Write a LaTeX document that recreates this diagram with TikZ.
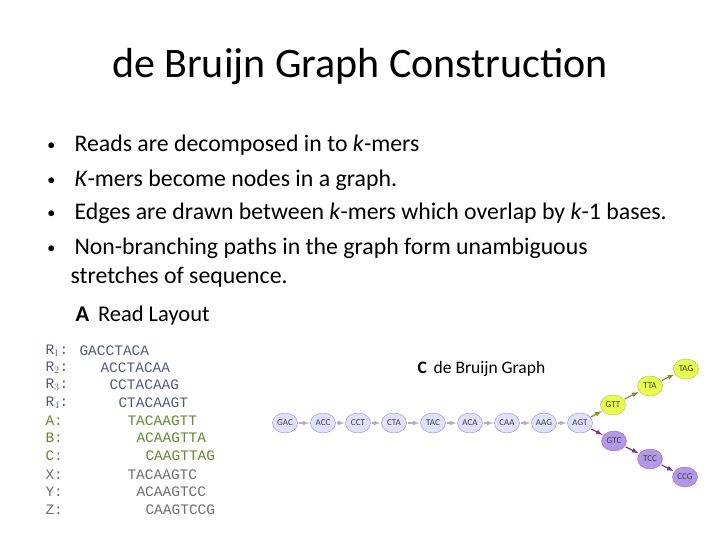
\documentclass[tikz,border=0pt]{standalone}
\usepackage{fontspec}
\setmainfont{Carlito}
\newfontfamily\monof{Liberation Mono}
\usetikzlibrary{shapes.geometric}
\begin{document}
\begin{tikzpicture}[x=1pt,y=1pt,
 kb/.style={ellipse,draw=blue!25!gray!70,fill=blue!12,inner sep=0pt,minimum width=25pt,minimum height=20pt,font=\fontsize{9}{9}\selectfont,text=black!75},
 kg/.style={kb,draw=olive!60,fill=lime!55!yellow!70!white},
 kp/.style={kb,draw=violet!60,fill=violet!45!blue!40!white},
 ar/.style={-latex,draw=gray!60,line width=1.2pt,shorten <=1pt,shorten >=1pt},
 arg/.style={ar,draw=olive!70!gray},
 arp/.style={ar,draw=violet!60!gray},
 bl/.style={anchor=west,font=\fontsize{23.8}{26}\selectfont},
 rd/.style={anchor=west,font=\monof\fontsize{14.5}{15}\selectfont}]
\useasboundingbox[fill=white] (0,0) rectangle (720,540);
\node[font=\fontsize{42}{46}\selectfont] (t) at (360,473) {de Bruijn Graph Construction};
\foreach \y/\tx [count=\i] in {395/{Reads are decomposed in to \textit{k}-mers},360/{\textit{K}-mers become nodes in a graph.},327/{Edges are drawn between \textit{k}-mers which overlap by \textit{k}-1 bases.},292/{Non-branching paths in the graph form unambiguous}}{
 \node[bl] (b\i) at (44,\y) {\makebox[27pt][l]{\raisebox{2pt}{\scalebox{0.6}{$\bullet$}}}\tx};}
\node[bl] (b5) at (67,263) {stretches of sequence.};
\node[anchor=west,font=\fontsize{22.5}{24}\selectfont] (ha) at (72,224) {\textbf{A}\, Read Layout};
\definecolor{rc}{RGB}{80,92,120}\definecolor{gc}{RGB}{100,135,55}\definecolor{xc}{RGB}{110,110,110}
\foreach \y/\l/\sx/\s/\c [count=\i] in {189/R$_1$:/76/GACCTACA/rc,172/R$_2$:/97/ACCTACAA/rc,155/R$_3$:/106/CCTACAAG/rc,137/R$_4$:/115/CTACAAGT/rc,119/A:/124/TACAAGTT/gc,102/B:/133/ACAAGTTA/gc,84/C:/142/CAAGTTAG/gc,65/X:/124/TACAAGTC/xc,48/Y:/133/ACAAGTCC/xc,30/Z:/142/CAAGTCCG/xc}{
 \node[rd,text=\c] (l\i) at (42,\y) {\l};
 \node[rd,text=\c] (s\i) at (\sx,\y) {\s};}
\node[anchor=west,font=\fontsize{17.5}{18}\selectfont] (hc) at (414,171) {\textbf{C}\, de Bruijn Graph};
\foreach \n/\x in {GAC/285,ACC/323,CCT/358,CTA/394,TAC/433,ACA/470,CAA/507,AAG/544,AGT/580}{\node[kb] (\n) at (\x,117) {\n};}
\node[kg] (GTT) at (613,135) {GTT};
\node[kg] (TTA) at (650,154) {TTA};
\node[kg] (TAG) at (686,171) {TAG};
\node[kp] (GTC) at (614,99) {GTC};
\node[kp] (TCC) at (650,81) {TCC};
\node[kp] (CCG) at (685,63) {CCG};
\foreach \a/\b in {GAC/ACC,ACC/CCT,CCT/CTA,CTA/TAC,TAC/ACA,ACA/CAA,CAA/AAG,AAG/AGT}{\draw[ar] (\a)--(\b);}
\draw[arg] (AGT)--(GTT); \draw[arg] (GTT)--(TTA); \draw[arg] (TTA)--(TAG);
\draw[arp] (AGT)--(GTC); \draw[arp] (GTC)--(TCC); \draw[arp] (TCC)--(CCG);
\end{tikzpicture}
\end{document}
